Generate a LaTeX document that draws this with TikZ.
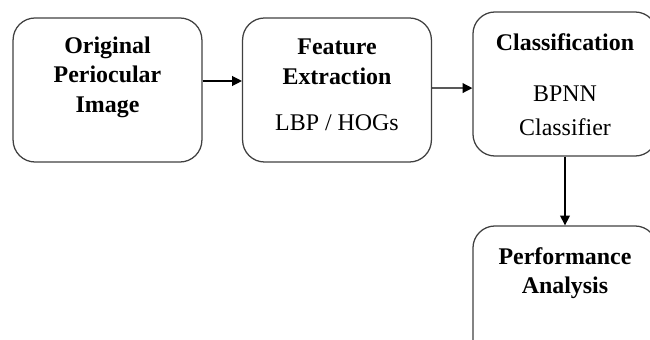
\documentclass[tikz,border=0pt]{standalone}
\usepackage{fontspec}
\setmainfont{Liberation Serif}
\usetikzlibrary{arrows.meta}

\tikzset{
  stage/.style={draw=black!75, line width=0.9pt, rounded corners=0.55cm,
    minimum width=4.72cm, minimum height=3.6cm, inner sep=0pt},
  headtxt/.style={font=\fontsize{17}{21}\selectfont\bfseries, align=center, inner sep=0pt},
  subtxt/.style={font=\fontsize{17}{21}\selectfont, align=center, inner sep=0pt},
  flow/.style={draw=black, line width=0.9pt, -{Triangle[length=7pt,width=7pt]}}
}

\begin{document}
\begin{tikzpicture}[x=0.025cm, y=-0.025cm]
        \useasboundingbox (0,0) rectangle (650,340);

        % boxes
        \node[stage] (orig) at (107.5,90) {};
        \node[stage] (feat) at (337,90) {};
        \node[stage, minimum width=4.6cm] (class) at (565,84) {};
        \node[stage, minimum width=4.6cm] (perf) at (565,298) {};

        % texts
        \node[headtxt] (origtxt) at (107.5,77) {Original\\Periocular\\Image};
        \node[headtxt] (feattxt) at (337,62) {Feature\\Extraction};
        \node[subtxt] (featsub) at (337,123) {LBP / HOGs};
        \node[headtxt] (classtxt) at (565,42) {Classification};
        \node[subtxt] (classsub) at (565,111) {BPNN\\[3pt]Classifier};
        \node[headtxt] (perftxt) at (565,273) {Performance\\Analysis};

        \draw[flow] ([yshift=6.4pt]orig.east) -- ([yshift=6.4pt]feat.west);
        \draw[flow] ([yshift=1.4pt]feat.east) -- ([yshift=-2.9pt]class.west);
        \draw[flow] (class.south) -- (perf.north);
      \end{tikzpicture}
\end{document}
